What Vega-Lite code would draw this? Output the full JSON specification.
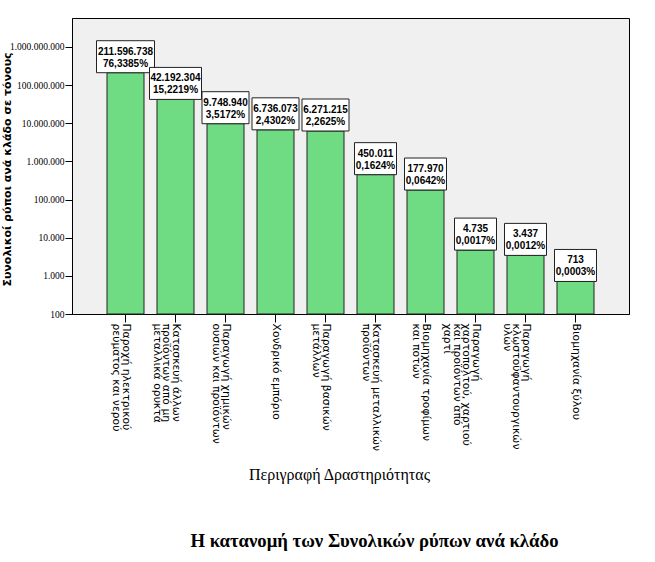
{
  "$schema": "https://vega.github.io/schema/vega-lite/v6.json",
  "autosize": "none",
  "width": 557,
  "height": 296,
  "padding": {"left": 72, "top": 18, "right": 26, "bottom": 248},
  "background": "white",
  "title": {
    "text": "Η κατανομή των Συνολικών ρύπων ανά κλάδο",
    "orient": "bottom",
    "anchor": "middle",
    "font": "Liberation Serif",
    "fontSize": 18.7,
    "fontWeight": "bold",
    "color": "black",
    "dx": 24,
    "offset": 50
  },
  "data": {
    "values": [
      {"cat": "Παροχή ηλεκτρικού|ρεύματος και νερού", "value": 211596738, "pct": 0.763385},
      {"cat": "Κατασκευή άλλων|προϊόντων από μη|μεταλλικά ορυκτά", "value": 42192304, "pct": 0.152219},
      {"cat": "Παραγωγή χημικών|ουσιών και προϊόντων", "value": 9748940, "pct": 0.035172},
      {"cat": "Χονδρικό εμπόριο", "value": 6736073, "pct": 0.024302},
      {"cat": "Παραγωγή βασικών|μετάλλων", "value": 6271215, "pct": 0.022625},
      {"cat": "Κατασκευή μεταλλικών|προϊόντων", "value": 450011, "pct": 0.001624},
      {"cat": "Βιομηχανία τροφίμων|και ποτών", "value": 177970, "pct": 0.000642},
      {"cat": "Παραγωγή|χαρτοπολτού, χαρτιού|και προϊόντων από|χαρτί", "value": 4735, "pct": 0.000017},
      {"cat": "Παραγωγή|κλωστοϋφαντουργικών|υλών", "value": 3437, "pct": 0.000012},
      {"cat": "Βιομηχανία ξύλου", "value": 713, "pct": 0.000003}
    ]
  },
  "encoding": {
    "x": {
      "field": "cat",
      "type": "nominal",
      "sort": null,
      "scale": {"paddingInner": 0.26, "paddingOuter": 0.7},
      "axis": {
        "title": "Περιγραφή Δραστηριότητας",
        "labelExpr": "split(datum.label, '|')",
        "labelAngle": 90,
        "labelAlign": "left",
        "labelBaseline": "middle",
        "labelOffset": 0,
        "labelFont": "DejaVu Sans",
        "labelFontSize": 10.8,
        "labelLineHeight": 9.5,
        "labelColor": "black",
        "labelPadding": 1,
        "labelLimit": 0,
        "tickSize": 8,
        "tickColor": "black",
        "domainColor": "black",
        "titleFont": "Liberation Serif",
        "titleFontSize": 16,
        "titleFontWeight": "normal",
        "titleColor": "black",
        "titleX": 267,
        "titleY": 165,
        "titleAlign": "center",
        "titleBaseline": "alphabetic"
      }
    },
    "y": {
      "field": "value",
      "type": "quantitative",
      "scale": {"type": "log", "domain": [100, 5750000000], "nice": false},
      "axis": {
        "title": "Συνολικοί ρύποι ανά κλάδο σε τόνους",
        "values": [100, 1000, 10000, 100000, 1000000, 10000000, 100000000, 1000000000],
        "format": ",d",
        "grid": false,
        "labelFont": "Liberation Sans Narrow",
        "labelFontSize": 9.5,
        "labelColor": "black",
        "labelPadding": 1,
        "tickSize": 7,
        "tickColor": "black",
        "domainColor": "black",
        "titleFont": "DejaVu Sans",
        "titleFontSize": 11,
        "titleFontWeight": "bold",
        "titleColor": "black",
        "titleAngle": -90,
        "titleX": -65,
        "titleY": 151,
        "titleAlign": "center",
        "titleBaseline": "middle"
      }
    }
  },
  "layer": [
    {
      "mark": {"type": "bar", "fill": "#6FDB83", "stroke": "#222222", "strokeWidth": 1},
      "encoding": {"y2": {"datum": 100}}
    },
    {
      "mark": {"type": "bar", "fill": "white", "stroke": "#222222", "strokeWidth": 1, "yOffset": -32, "y2Offset": 0},
      "encoding": {
        "y2": {"field": "value"},
        "size": {
          "field": "value",
          "type": "quantitative",
          "scale": {"type": "threshold", "domain": [1000000, 10000000, 100000000], "range": [42, 47, 52, 58]},
          "legend": null
        }
      }
    },
    {
      "mark": {"type": "text", "font": "Liberation Sans", "fontWeight": "bold", "fontSize": 10, "color": "black", "baseline": "middle", "dy": -21},
      "encoding": {"text": {"field": "value", "type": "quantitative", "format": ",d"}}
    },
    {
      "mark": {"type": "text", "font": "Liberation Sans", "fontWeight": "bold", "fontSize": 10, "color": "black", "baseline": "middle", "dy": -9},
      "encoding": {"text": {"field": "pct", "type": "quantitative", "format": ".4%"}}
    }
  ],
  "config": {
    "view": {"stroke": "black", "fill": "#F0F0F0"},
    "locale": {
      "number": {"decimal": ",", "thousands": ".", "grouping": [3], "currency": ["", " €"]}
    }
  }
}
